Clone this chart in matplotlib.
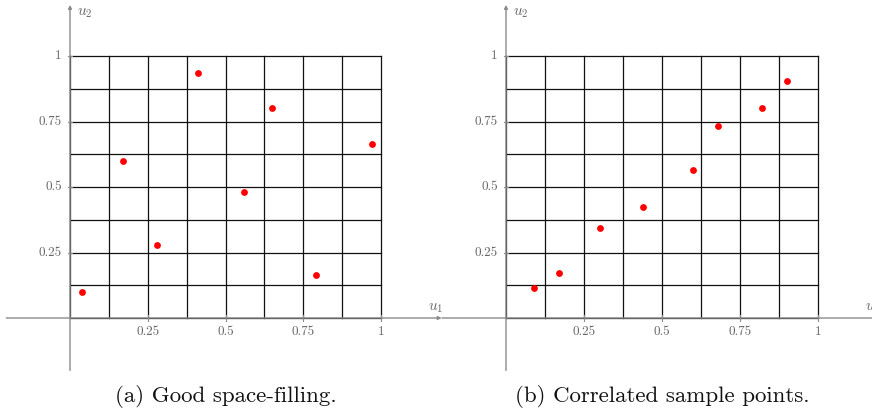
import matplotlib
matplotlib.use("Agg")
import matplotlib.pyplot as plt
import numpy as np

plt.rcParams['mathtext.fontset'] = 'cm'
plt.rcParams['axes.unicode_minus'] = False

# Data
good_u1 = [0.04, 0.17, 0.28, 0.41, 0.56, 0.65, 0.79, 0.97]
good_u2 = [0.10, 0.60, 0.28, 0.935, 0.48, 0.80, 0.165, 0.665]
corr_u1 = [0.09, 0.17, 0.30, 0.44, 0.60, 0.68, 0.82, 0.90]
corr_u2 = [0.115, 0.172, 0.344, 0.424, 0.565, 0.733, 0.80, 0.905]
tick_vals = [0.25, 0.5, 0.75, 1]
tick_labels = ["0.25", "0.5", "0.75", "1"]
captions = ["(a) Good space-filling.", "(b) Correlated sample points."]

W, H = 872, 416
fig = plt.figure(figsize=(W / 100, H / 100), dpi=100)

axis_col = '#8a8a8a'
grid_col = '#111111'
label_col = '#666666'

def panel(x0px, wpx, xs, ys, caption):
    y0px = 318
    hpx = 262
    ax = fig.add_axes([x0px / W, (H - y0px) / H, wpx / W, hpx / H])
    ax.set_xlim(0, 1)
    ax.set_ylim(0, 1)
    ax.axis('off')
    # grid
    g = np.arange(0, 1.0001, 0.125)
    for v in g:
        ax.plot([v, v], [0, 1], color=grid_col, lw=0.9, clip_on=False, zorder=2)
        ax.plot([0, 1], [v, v], color=grid_col, lw=0.9, clip_on=False, zorder=2)
    # axes lines with arrows
    ax.annotate('', xy=(1.195, 0), xytext=(-0.205, 0), xycoords='data',
                arrowprops=dict(arrowstyle='-|>', color=axis_col, lw=1.0,
                                mutation_scale=5, shrinkA=0, shrinkB=0),
                annotation_clip=False, zorder=3)
    ax.annotate('', xy=(0, 1.195), xytext=(0, -0.2), xycoords='data',
                arrowprops=dict(arrowstyle='-|>', color=axis_col, lw=1.0,
                                mutation_scale=5, shrinkA=0, shrinkB=0),
                annotation_clip=False, zorder=3)
    # ticks
    tl = 0.008
    for v, s in zip(tick_vals, tick_labels):
        ax.plot([v, v], [-tl * 1.2, tl * 1.2], color=axis_col, lw=0.8, clip_on=False, zorder=3)
        ax.plot([-tl, tl], [v, v], color=axis_col, lw=0.8, clip_on=False, zorder=3)
        ax.text(v, -0.032, s, ha='center', va='top', fontsize=9.5, color=label_col,
                family='cmr10')
        ax.text(-0.026, v, s, ha='right', va='center', fontsize=9.5, color=label_col,
                family='cmr10')
    ax.text(1.15, 0.012, r'$u_1$', ha='left', va='bottom', fontsize=11, color=label_col)
    ax.text(0.022, 1.165, r'$u_2$', ha='left', va='center', fontsize=11, color=label_col)
    ax.scatter(xs, ys, s=24, color='#ff0000', zorder=5, clip_on=False, linewidths=0)
    ax.text(0.5, (318 - 396) / 262, caption, ha='center', va='center', fontsize=16.5,
            family='cmr10', color='#111111')
    return ax

panel(70, 311, good_u1, good_u2, captions[0])
panel(506, 312, corr_u1, corr_u2, captions[1])

fig.savefig('out.png', dpi=100)
